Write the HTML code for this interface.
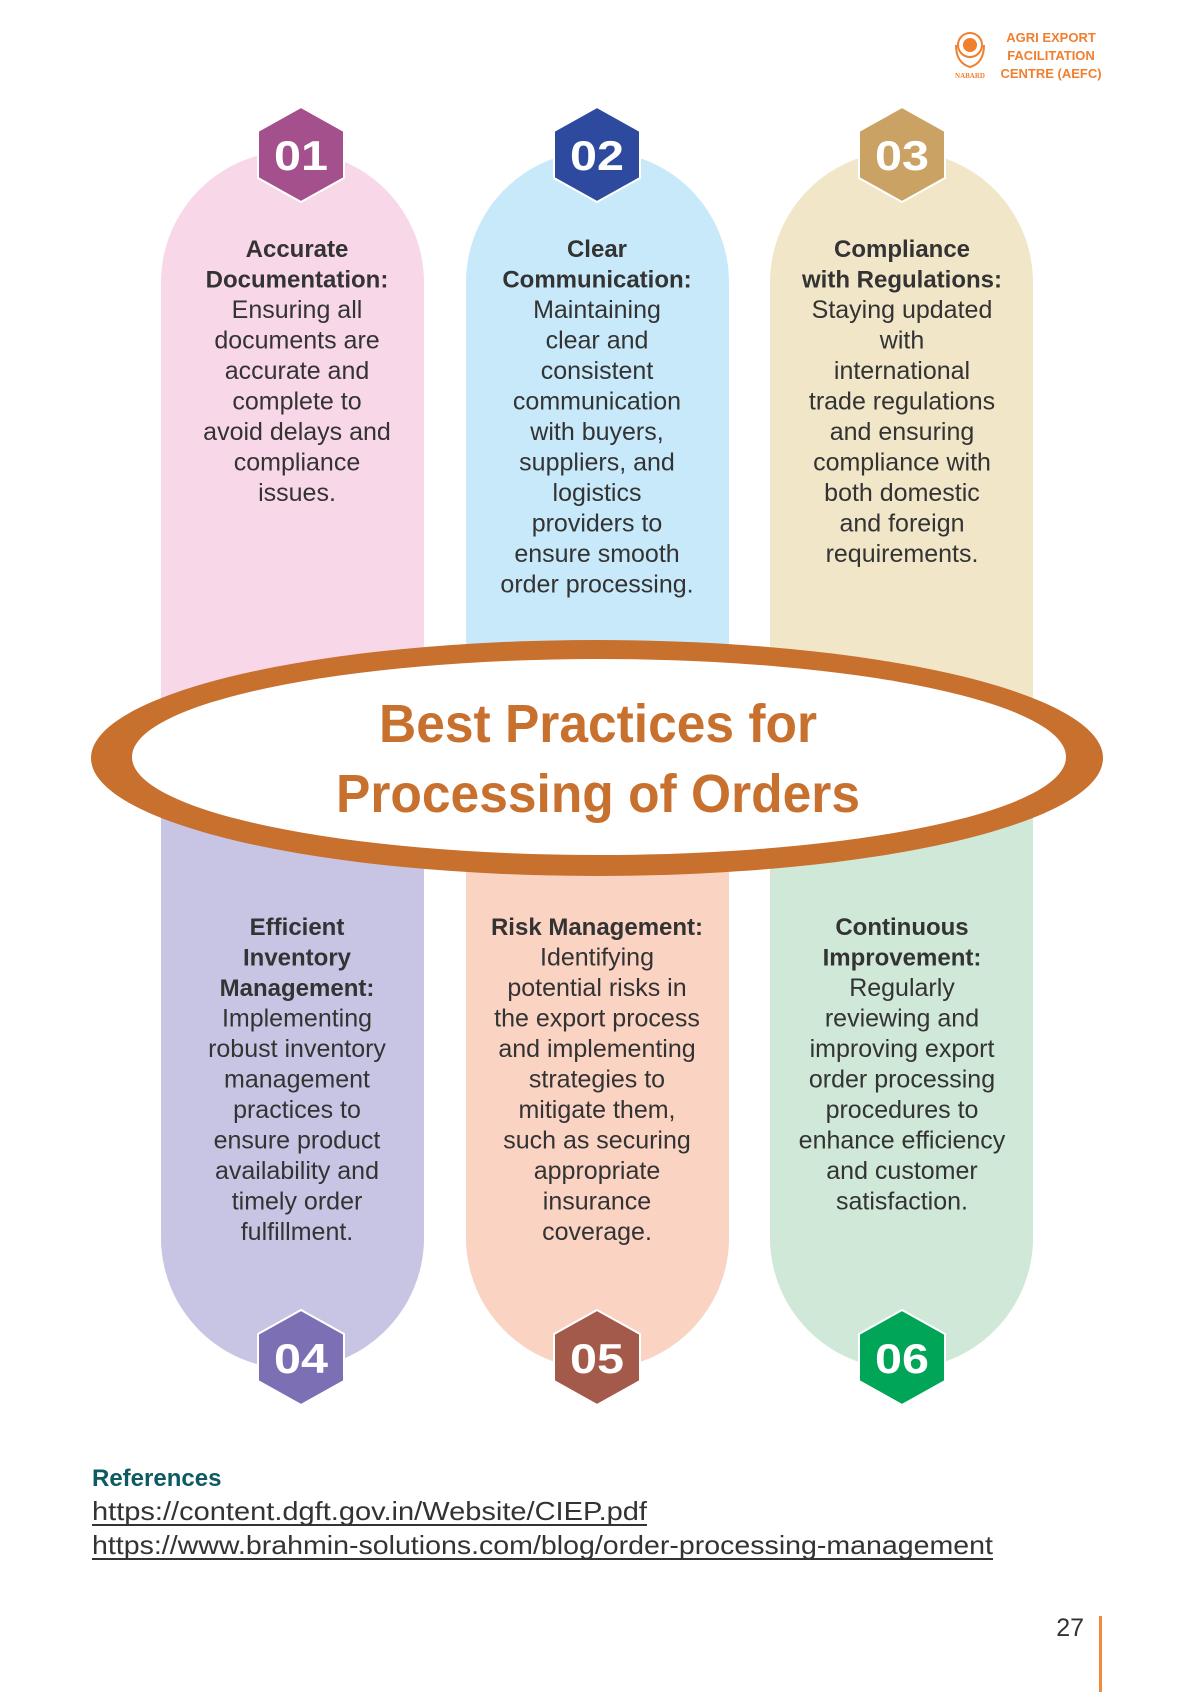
<!DOCTYPE html>
<html><head><meta charset="utf-8"><style>
html,body{margin:0;padding:0;background:#fff;}
svg{display:block}
</style></head><body>
<svg width="1190" height="1692" viewBox="0 0 1190 1692" xmlns="http://www.w3.org/2000/svg" font-family="Liberation Sans, sans-serif">
<!-- logo -->
<g fill="none" stroke="#f07f2e" stroke-width="2">
<circle cx="970" cy="45" r="12"/><circle cx="970" cy="45" r="6" fill="#f07f2e"/>
<path d="M956 45 q0 18 14 22 q14 -4 14 -22"/>
</g>
<text x="970" y="78" font-size="7" font-family="Liberation Serif, serif" fill="#f07f2e" text-anchor="middle" font-weight="bold">NABARD</text>
<g font-size="13" font-weight="bold" fill="#f07f2e" text-anchor="middle">
<text x="1051" y="42">AGRI EXPORT</text>
<text x="1051" y="60">FACILITATION</text>
<text x="1051" y="78">CENTRE (AEFC)</text>
</g>
<!-- pills -->
<rect x="161" y="151" width="263" height="1218" rx="131.5" fill="#f8d7e8"/>
<rect x="466" y="151" width="263" height="1218" rx="131.5" fill="#c7e9f9"/>
<rect x="770" y="151" width="263" height="1218" rx="131.5" fill="#f2e6c9"/>
<rect x="161" y="760" width="263" height="609" rx="131.5" fill="#c8c5e4"/>
<rect x="161" y="760" width="263" height="300" fill="#c8c5e4"/>
<rect x="466" y="760" width="263" height="609" rx="131.5" fill="#fad3c3"/>
<rect x="466" y="760" width="263" height="300" fill="#fad3c3"/>
<rect x="770" y="760" width="263" height="609" rx="131.5" fill="#cfe8d8"/>
<rect x="770" y="760" width="263" height="300" fill="#cfe8d8"/>
<!-- hexagons -->
<g stroke="#fff" stroke-width="2">
<polygon points="301,107 344,131 344,178 301,202 258,178 258,131" fill="#a3508d"/>
<polygon points="597,107 640,131 640,178 597,202 554,178 554,131" fill="#2e4a9e"/>
<polygon points="902,107 945,131 945,178 902,202 859,178 859,131" fill="#c9a264"/>
<polygon points="301,1310 344,1334 344,1381 301,1405 258,1381 258,1334" fill="#7c6fb4"/>
<polygon points="597,1310 640,1334 640,1381 597,1405 554,1381 554,1334" fill="#a45a4a"/>
<polygon points="902,1310 945,1334 945,1381 902,1405 859,1381 859,1334" fill="#00a557"/>
</g>
<g font-size="42" font-weight="bold" fill="#fff" text-anchor="middle">
<text x="301" y="170" textLength="54" lengthAdjust="spacingAndGlyphs">01</text>
<text x="597" y="170" textLength="54" lengthAdjust="spacingAndGlyphs">02</text>
<text x="902" y="170" textLength="54" lengthAdjust="spacingAndGlyphs">03</text>
<text x="301" y="1373" textLength="54" lengthAdjust="spacingAndGlyphs">04</text>
<text x="597" y="1373" textLength="54" lengthAdjust="spacingAndGlyphs">05</text>
<text x="902" y="1373" textLength="54" lengthAdjust="spacingAndGlyphs">06</text>
</g>
<!-- ellipse -->
<ellipse cx="597" cy="758" rx="506" ry="118" fill="#c8702e"/>
<ellipse cx="599" cy="757" rx="467" ry="98" fill="#fff"/>
<g font-size="54" font-weight="bold" fill="#c8702e" text-anchor="middle">
<text x="598" y="742" textLength="438" lengthAdjust="spacingAndGlyphs">Best Practices for</text>
<text x="598" y="812" textLength="524" lengthAdjust="spacingAndGlyphs">Processing of Orders</text>
</g>
<!-- text blocks -->
<g font-size="25" fill="#333" text-anchor="middle">
<text x="297" y="257"><tspan font-weight="bold" font-size="24">Accurate</tspan><tspan x="297" dy="30.5" font-weight="bold" font-size="24">Documentation:</tspan><tspan x="297" dy="30.5">Ensuring all</tspan><tspan x="297" dy="30.5">documents are</tspan><tspan x="297" dy="30.5">accurate and</tspan><tspan x="297" dy="30.5">complete to</tspan><tspan x="297" dy="30.5">avoid delays and</tspan><tspan x="297" dy="30.5">compliance</tspan><tspan x="297" dy="30.5">issues.</tspan></text>
<text x="597" y="257"><tspan font-weight="bold" font-size="24">Clear</tspan><tspan x="597" dy="30.5" font-weight="bold" font-size="24">Communication:</tspan><tspan x="597" dy="30.5">Maintaining</tspan><tspan x="597" dy="30.5">clear and</tspan><tspan x="597" dy="30.5">consistent</tspan><tspan x="597" dy="30.5">communication</tspan><tspan x="597" dy="30.5">with buyers,</tspan><tspan x="597" dy="30.5">suppliers, and</tspan><tspan x="597" dy="30.5">logistics</tspan><tspan x="597" dy="30.5">providers to</tspan><tspan x="597" dy="30.5">ensure smooth</tspan><tspan x="597" dy="30.5">order processing.</tspan></text>
<text x="902" y="257"><tspan font-weight="bold" font-size="24">Compliance</tspan><tspan x="902" dy="30.5" font-weight="bold" font-size="24">with Regulations:</tspan><tspan x="902" dy="30.5">Staying updated</tspan><tspan x="902" dy="30.5">with</tspan><tspan x="902" dy="30.5">international</tspan><tspan x="902" dy="30.5">trade regulations</tspan><tspan x="902" dy="30.5">and ensuring</tspan><tspan x="902" dy="30.5">compliance with</tspan><tspan x="902" dy="30.5">both domestic</tspan><tspan x="902" dy="30.5">and foreign</tspan><tspan x="902" dy="30.5">requirements.</tspan></text>
<text x="297" y="935"><tspan font-weight="bold" font-size="24">Efficient</tspan><tspan x="297" dy="30.5" font-weight="bold" font-size="24">Inventory</tspan><tspan x="297" dy="30.5" font-weight="bold" font-size="24">Management:</tspan><tspan x="297" dy="30.5">Implementing</tspan><tspan x="297" dy="30.5">robust inventory</tspan><tspan x="297" dy="30.5">management</tspan><tspan x="297" dy="30.5">practices to</tspan><tspan x="297" dy="30.5">ensure product</tspan><tspan x="297" dy="30.5">availability and</tspan><tspan x="297" dy="30.5">timely order</tspan><tspan x="297" dy="30.5">fulfillment.</tspan></text>
<text x="597" y="935"><tspan font-weight="bold" font-size="24">Risk Management:</tspan><tspan x="597" dy="30.5">Identifying</tspan><tspan x="597" dy="30.5">potential risks in</tspan><tspan x="597" dy="30.5">the export process</tspan><tspan x="597" dy="30.5">and implementing</tspan><tspan x="597" dy="30.5">strategies to</tspan><tspan x="597" dy="30.5">mitigate them,</tspan><tspan x="597" dy="30.5">such as securing</tspan><tspan x="597" dy="30.5">appropriate</tspan><tspan x="597" dy="30.5">insurance</tspan><tspan x="597" dy="30.5">coverage.</tspan></text>
<text x="902" y="935"><tspan font-weight="bold" font-size="24">Continuous</tspan><tspan x="902" dy="30.5" font-weight="bold" font-size="24">Improvement:</tspan><tspan x="902" dy="30.5">Regularly</tspan><tspan x="902" dy="30.5">reviewing and</tspan><tspan x="902" dy="30.5">improving export</tspan><tspan x="902" dy="30.5">order processing</tspan><tspan x="902" dy="30.5">procedures to</tspan><tspan x="902" dy="30.5">enhance efficiency</tspan><tspan x="902" dy="30.5">and customer</tspan><tspan x="902" dy="30.5">satisfaction.</tspan></text>
</g>
<!-- references -->
<text x="92" y="1486" font-size="24" font-weight="bold" fill="#0e5a63">References</text>
<g font-size="26" fill="#333">
<text x="92" y="1520" textLength="555" lengthAdjust="spacingAndGlyphs">https://content.dgft.gov.in/Website/CIEP.pdf</text>
<text x="92" y="1554" textLength="901" lengthAdjust="spacingAndGlyphs">https://www.brahmin-solutions.com/blog/order-processing-management</text>
</g>
<rect x="92" y="1524" width="555" height="2" fill="#333"/>
<rect x="92" y="1558" width="901" height="2" fill="#333"/>
<!-- page number -->
<text x="1084" y="1636" font-size="25" fill="#333" text-anchor="end">27</text>
<rect x="1099" y="1616" width="3" height="76" fill="#f08a3c"/>
</svg>
</body></html>
